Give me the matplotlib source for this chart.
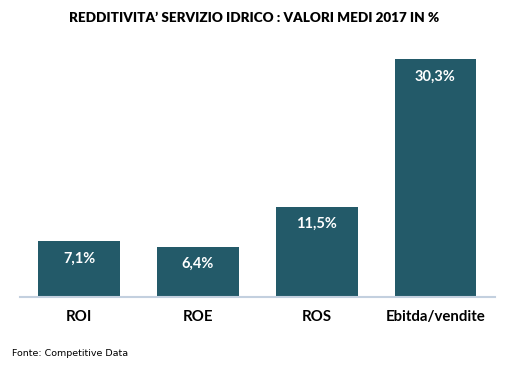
import matplotlib
matplotlib.use('Agg')
import matplotlib.pyplot as plt

# dati
categorie = ['ROI', 'ROE', 'ROS', 'Ebitda/vendite']
valori = [7.1, 6.4, 11.5, 30.3]
etichette = ['7,1%', '6,4%', '11,5%', '30,3%']

plt.rcParams['font.family'] = ['Lato', 'DejaVu Sans']

fig = plt.figure(figsize=(5.23, 3.69), dpi=100)
ax = fig.add_axes([0.0382, 0.1951, 0.908, 0.702])

x = range(len(categorie))
bars = ax.bar(x, valori, width=0.69, color='#235a69')

for b, lab in zip(bars, etichette):
    ax.annotate(lab, (b.get_x() + b.get_width() / 2, b.get_height()),
                xytext=(0, -12.5), textcoords='offset points',
                ha='center', va='center', color='white',
                fontsize=10.5, fontweight='bold')

ax.set_xlim(-0.5, 3.5)
ax.set_ylim(0, 33)
ax.set_xticks(list(x))
ax.set_xticklabels(categorie, fontsize=10.8, fontweight='bold')
ax.tick_params(axis='x', length=0, pad=9)
ax.set_yticks([])
for s in ['top', 'right', 'left']:
    ax.spines[s].set_visible(False)
ax.spines['bottom'].set_color('#c3d0df')
ax.spines['bottom'].set_linewidth(1.5)

fig.text(0.486, 0.951, 'REDDITIVITA\u2019 SERVIZIO IDRICO : VALORI MEDI 2017 IN %',
         ha='center', va='center', fontsize=9.7, fontweight='heavy')
fig.text(0.023, 0.043, 'Fonte: Competitive Data', ha='left', va='center',
         fontsize=6.8, family='DejaVu Sans')

fig.savefig('out.png', dpi=100)
